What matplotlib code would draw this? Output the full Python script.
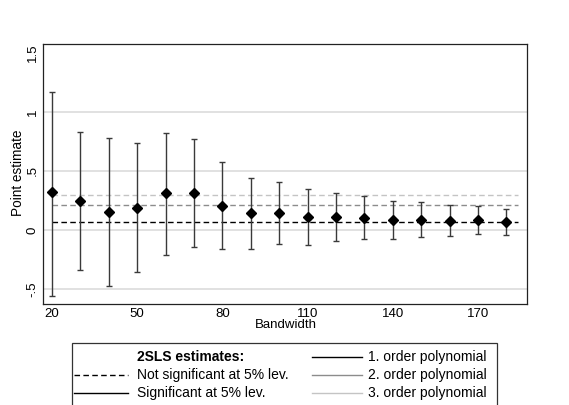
import matplotlib
matplotlib.use("Agg")
import matplotlib.pyplot as plt
from matplotlib.patches import Rectangle
from matplotlib.lines import Line2D

bandwidth = [20, 30, 40, 50, 60, 70, 80, 90, 100, 110, 120, 130, 140, 150, 160, 170, 180]
estimate = [0.32, 0.245, 0.15, 0.19, 0.31, 0.313, 0.206, 0.14, 0.14, 0.107, 0.107, 0.105, 0.085, 0.087, 0.079, 0.085, 0.065]
ci_upper = [1.17, 0.83, 0.78, 0.74, 0.825, 0.77, 0.574, 0.443, 0.41, 0.345, 0.313, 0.288, 0.246, 0.234, 0.209, 0.20, 0.175]
ci_lower = [-0.557, -0.34, -0.475, -0.353, -0.21, -0.144, -0.158, -0.158, -0.121, -0.127, -0.096, -0.076, -0.076, -0.056, -0.054, -0.037, -0.042]

poly_estimates = [0.065, 0.209, 0.30]
poly_colors = ["#000000", "#8c8c8c", "#c4c4c4"]
poly_labels = ["1. order polynomial", "2. order polynomial", "3. order polynomial"]
poly_span = [20, 184]

xticks = [20, 50, 80, 110, 140, 170]
yticks = [-0.5, 0, 0.5, 1, 1.5]
yticklabels = ["-.5", "0", ".5", "1", "1.5"]
gridlines = [-0.5, 0, 0.5, 1]

plt.rcParams['font.family'] = ['Liberation Sans', 'DejaVu Sans']

W, H = 569, 405
fig = plt.figure(figsize=(W/100, H/100), dpi=100)
ax = fig.add_axes([43/W, 1-304/H, (527-43)/W, (304-44)/H])

for g in gridlines:
    ax.axhline(g, color="#dcdcdc", lw=1.2, zorder=0)

for val, col in zip(poly_estimates, poly_colors):
    ax.plot(poly_span, [val, val], color=col, lw=1.0, linestyle=(0, (4, 2.4)), zorder=1)

yerr = [[e - l for e, l in zip(estimate, ci_lower)], [u - e for e, u in zip(estimate, ci_upper)]]
eb = ax.errorbar(bandwidth, estimate, yerr=yerr, fmt='none', ecolor="#3a3a3a", elinewidth=1.0,
                 capsize=2.5, capthick=1.0, zorder=2)
for cap in eb[1]:
    cap.set_color("black")
ax.plot(bandwidth, estimate, 'D', color='black', markersize=5.2, zorder=3)

ax.set_xlim(16.8, 187.3)
ax.set_ylim(-0.627, 1.576)
ax.set_xticks(xticks)
ax.set_xticklabels([str(x) for x in xticks], fontsize=9.5)
ax.set_yticks(yticks)
ax.set_yticklabels(yticklabels, fontsize=9.5, rotation=90, va='center')
ax.tick_params(length=0, pad=3)
for s in ax.spines.values():
    s.set_linewidth(0.9)
    s.set_color("#222222")

def fx(px):
    return px / W
def fy(py):
    return 1 - py / H

fig.text(fx(286), fy(325), "Bandwidth", fontsize=9.5, ha='center', va='center')
fig.text(fx(18), fy(173), "Point estimate", fontsize=9.8, ha='center', va='center', rotation=90)

# legend box
fig.patches.append(Rectangle((fx(72), fy(420)), fx(497) - fx(72), fy(343) - fy(420),
                             transform=fig.transFigure, fill=False, edgecolor="#333333", lw=0.9))
fs = 10
fig.text(fx(137), fy(357), "2SLS estimates:", fontsize=fs, fontweight='bold', va='center', ha='left')
fig.add_artist(Line2D([fx(74), fx(128)], [fy(375), fy(375)], color='black', lw=1.0,
                      linestyle=(0, (4, 2.4)), transform=fig.transFigure))
fig.text(fx(137), fy(375), "Not significant at 5% lev.", fontsize=fs, va='center', ha='left')
fig.add_artist(Line2D([fx(74), fx(128)], [fy(393), fy(393)], color='black', lw=1.0,
                      transform=fig.transFigure))
fig.text(fx(137), fy(393), "Significant at 5% lev.", fontsize=fs, va='center', ha='left')

for i, (lab, col) in enumerate(zip(poly_labels, poly_colors)):
    yy = fy(357 + 18 * i)
    fig.add_artist(Line2D([fx(312), fx(362)], [yy, yy], color=col, lw=1.0, transform=fig.transFigure))
    fig.text(fx(368), yy, lab, fontsize=fs, va='center', ha='left')

fig.savefig("out.png", dpi=100, facecolor='white')
